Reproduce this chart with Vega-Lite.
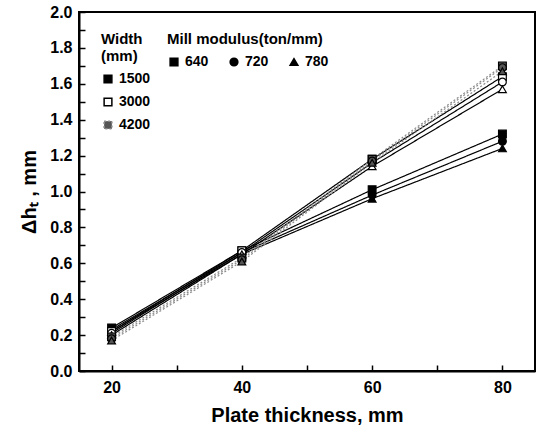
{
  "$schema": "https://vega.github.io/schema/vega-lite/v6.json",
  "width": 456,
  "height": 359,
  "autosize": "none",
  "padding": {"left": 79, "top": 12, "right": 4, "bottom": 61},
  "background": "white",
  "config": {
    "font": "Liberation Sans",
    "view": {"stroke": "black", "strokeWidth": 2},
    "axis": {"domainColor": "black", "domainWidth": 2, "tickColor": "black", "tickWidth": 1.5, "grid": false,
             "labelFont": "Liberation Sans", "labelFontWeight": "bold", "labelFontSize": 16, "labelColor": "black",
             "titleFont": "Liberation Sans", "titleFontWeight": "bold", "titleFontSize": 20, "titleColor": "black"},
    "legend": {"labelFont": "Liberation Sans", "labelFontWeight": "bold", "labelFontSize": 14, "labelColor": "black",
               "titleFont": "Liberation Sans", "titleFontWeight": "bold", "titleFontSize": 15, "titleColor": "black"}
  },
  "data": {"values": [
    {"Width": "1500", "Modulus": "640", "Thickness": 20, "dh": 0.24},
    {"Width": "1500", "Modulus": "640", "Thickness": 40, "dh": 0.67},
    {"Width": "1500", "Modulus": "640", "Thickness": 60, "dh": 1.01},
    {"Width": "1500", "Modulus": "640", "Thickness": 80, "dh": 1.32},
    {"Width": "1500", "Modulus": "720", "Thickness": 20, "dh": 0.23},
    {"Width": "1500", "Modulus": "720", "Thickness": 40, "dh": 0.66},
    {"Width": "1500", "Modulus": "720", "Thickness": 60, "dh": 0.98},
    {"Width": "1500", "Modulus": "720", "Thickness": 80, "dh": 1.28},
    {"Width": "1500", "Modulus": "780", "Thickness": 20, "dh": 0.22},
    {"Width": "1500", "Modulus": "780", "Thickness": 40, "dh": 0.65},
    {"Width": "1500", "Modulus": "780", "Thickness": 60, "dh": 0.96},
    {"Width": "1500", "Modulus": "780", "Thickness": 80, "dh": 1.24},
    {"Width": "3000", "Modulus": "640", "Thickness": 20, "dh": 0.22},
    {"Width": "3000", "Modulus": "640", "Thickness": 40, "dh": 0.67},
    {"Width": "3000", "Modulus": "640", "Thickness": 60, "dh": 1.18},
    {"Width": "3000", "Modulus": "640", "Thickness": 80, "dh": 1.64},
    {"Width": "3000", "Modulus": "720", "Thickness": 20, "dh": 0.21},
    {"Width": "3000", "Modulus": "720", "Thickness": 40, "dh": 0.66},
    {"Width": "3000", "Modulus": "720", "Thickness": 60, "dh": 1.16},
    {"Width": "3000", "Modulus": "720", "Thickness": 80, "dh": 1.61},
    {"Width": "3000", "Modulus": "780", "Thickness": 20, "dh": 0.20},
    {"Width": "3000", "Modulus": "780", "Thickness": 40, "dh": 0.65},
    {"Width": "3000", "Modulus": "780", "Thickness": 60, "dh": 1.14},
    {"Width": "3000", "Modulus": "780", "Thickness": 80, "dh": 1.57},
    {"Width": "4200", "Modulus": "640", "Thickness": 20, "dh": 0.19},
    {"Width": "4200", "Modulus": "640", "Thickness": 40, "dh": 0.63},
    {"Width": "4200", "Modulus": "640", "Thickness": 60, "dh": 1.18},
    {"Width": "4200", "Modulus": "640", "Thickness": 80, "dh": 1.70},
    {"Width": "4200", "Modulus": "720", "Thickness": 20, "dh": 0.18},
    {"Width": "4200", "Modulus": "720", "Thickness": 40, "dh": 0.62},
    {"Width": "4200", "Modulus": "720", "Thickness": 60, "dh": 1.17},
    {"Width": "4200", "Modulus": "720", "Thickness": 80, "dh": 1.69},
    {"Width": "4200", "Modulus": "780", "Thickness": 20, "dh": 0.17},
    {"Width": "4200", "Modulus": "780", "Thickness": 40, "dh": 0.61},
    {"Width": "4200", "Modulus": "780", "Thickness": 60, "dh": 1.16},
    {"Width": "4200", "Modulus": "780", "Thickness": 80, "dh": 1.67}
  ]},
  "encoding": {
    "x": {"field": "Thickness", "type": "quantitative",
          "scale": {"domain": [15, 85], "nice": false, "zero": false},
          "axis": {"title": "Plate thickness, mm", "values": [20, 30, 40, 50, 60, 70, 80],
                   "labelExpr": "datum.value % 20 === 0 ? datum.label : ''",
                   "tickSize": -6,
                   "labelPadding": 14, "titlePadding": 10}},
    "y": {"field": "dh", "type": "quantitative",
          "scale": {"domain": [0, 2], "nice": false},
          "axis": {"title": "Δhₜ , mm", "values": [0, 0.1, 0.2, 0.3, 0.4, 0.5, 0.6, 0.7, 0.8, 0.9, 1.0, 1.1, 1.2, 1.3, 1.4, 1.5, 1.6, 1.7, 1.8, 1.9, 2.0],
                   "labelExpr": "round(datum.value * 10) % 2 === 0 ? format(datum.value, '.1f') : ''",
                   "tickSize": -6,
                   "labelPadding": 13, "titlePadding": 10}}
  },
  "layer": [
    {
      "mark": {"type": "line", "strokeWidth": 1.2},
      "encoding": {
        "detail": [{"field": "Width"}, {"field": "Modulus"}],
        "stroke": {"field": "Width", "type": "nominal",
                   "scale": {"domain": ["1500", "3000", "4200"], "range": ["black", "black", "#8a8a8a"]},
                   "legend": {"title": ["Width", "(mm)"], "orient": "none", "legendX": 22, "legendY": 20,
                              "symbolType": "square", "symbolSize": 60, "rowPadding": 9, "titlePadding": 8}},
        "strokeDash": {"field": "Width", "type": "nominal",
                       "scale": {"domain": ["1500", "3000", "4200"], "range": [[1, 0], [1, 0], [2, 2]]},
                       "legend": {"title": ["Width", "(mm)"], "orient": "none", "legendX": 22, "legendY": 20,
                                  "symbolType": "square", "symbolSize": 60, "rowPadding": 9, "titlePadding": 8}}
      }
    },
    {
      "mark": {"type": "point", "filled": false, "size": 60, "strokeWidth": 1.2, "stroke": "black", "opacity": 1},
      "encoding": {
        "shape": {"field": "Modulus", "type": "nominal",
                  "scale": {"domain": ["640", "720", "780"], "range": ["square", "circle", "triangle-up"]},
                  "legend": {"title": "Mill modulus(ton/mm)", "orient": "none", "legendX": 88, "legendY": 20,
                             "direction": "horizontal", "symbolFillColor": "black", "symbolStrokeColor": "black",
                             "symbolSize": 60, "columnPadding": 18, "titlePadding": 8}},
        "fill": {"field": "Width", "type": "nominal",
                 "scale": {"domain": ["1500", "3000", "4200"], "range": ["black", "white", "#555555"]},
                 "legend": {"title": ["Width", "(mm)"], "orient": "none", "legendX": 22, "legendY": 20,
                            "symbolType": "square", "symbolSize": 60, "rowPadding": 9, "titlePadding": 8}}
      }
    }
  ]
}
